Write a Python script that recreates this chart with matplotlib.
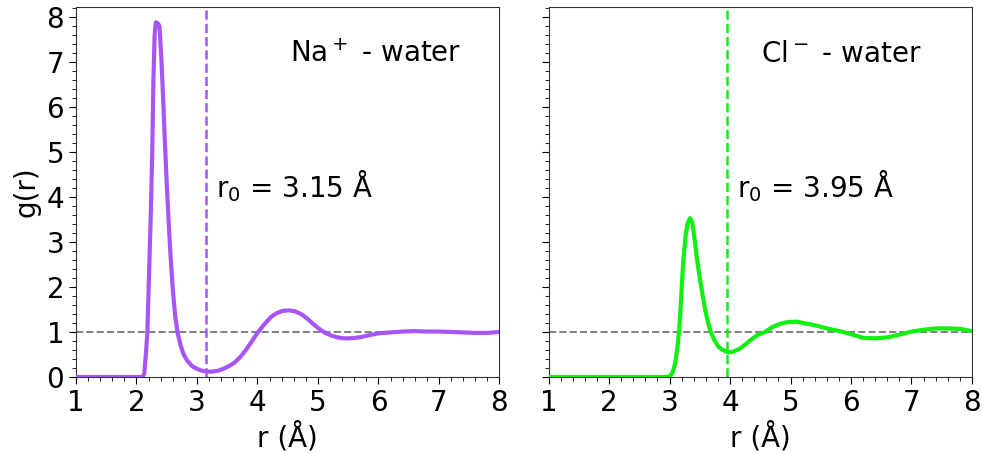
import matplotlib
matplotlib.use("Agg")
import matplotlib.pyplot as plt
from matplotlib.ticker import AutoMinorLocator

# Na+ - water g(r)
r_na = [1.0, 1.5, 2.0, 2.10, 2.13, 2.16, 2.18, 2.21, 2.24, 2.26, 2.28, 2.30, 2.32, 2.35,
        2.38, 2.41, 2.44, 2.47, 2.50, 2.53, 2.56, 2.60, 2.64, 2.68, 2.73, 2.78, 2.84,
        2.92, 3.00, 3.08, 3.17, 3.25, 3.35, 3.45, 3.55, 3.63, 3.72, 3.82, 3.91, 4.00,
        4.10, 4.22, 4.32, 4.42, 4.52, 4.62, 4.72, 4.82, 4.92, 5.02, 5.12, 5.22, 5.32,
        5.42, 5.52, 5.62, 5.72, 5.85, 6.0, 6.2, 6.4, 6.6, 6.8, 7.0, 7.2, 7.4, 7.6,
        7.8, 8.0]
g_na = [0.0, 0.0, 0.0, 0.0, 0.08, 0.6, 1.0, 2.4, 3.8, 5.0, 6.6, 7.6, 7.88, 7.86,
        7.8, 7.1, 6.2, 5.2, 4.3, 3.5, 2.75, 1.95, 1.35, 0.98, 0.7, 0.5, 0.36,
        0.24, 0.18, 0.14, 0.12, 0.12, 0.14, 0.19, 0.26, 0.33, 0.45, 0.62, 0.8, 0.98,
        1.15, 1.33, 1.42, 1.47, 1.48, 1.46, 1.40, 1.30, 1.18, 1.07, 0.98, 0.92, 0.88,
        0.86, 0.86, 0.87, 0.89, 0.93, 0.97, 0.99, 1.01, 1.02, 1.01, 1.01, 1.0, 0.99, 0.98,
        0.98, 1.0]

# Cl- - water g(r)
r_cl = [1.0, 2.0, 2.95, 3.01, 3.05, 3.09, 3.13, 3.16, 3.19, 3.22, 3.25, 3.27, 3.30,
        3.34, 3.37, 3.39, 3.42, 3.45, 3.50, 3.56, 3.61, 3.67, 3.74, 3.81, 3.88, 3.96,
        4.05, 4.15, 4.25, 4.35, 4.45, 4.58, 4.70, 4.82, 4.95, 5.1, 5.25, 5.4, 5.6,
        5.87, 6.0, 6.2, 6.4, 6.6, 6.8, 6.97, 7.2, 7.41, 7.6, 7.8, 8.0]
g_cl = [0.0, 0.0, 0.0, 0.02, 0.1, 0.28, 0.65, 1.04, 1.7, 2.45, 2.9, 3.19, 3.42,
        3.53, 3.45, 3.3, 3.0, 2.65, 2.2, 1.71, 1.36, 1.04, 0.82, 0.67, 0.6, 0.55,
        0.56, 0.62, 0.72, 0.83, 0.93, 1.0, 1.11, 1.18, 1.22, 1.23, 1.19, 1.15, 1.08,
        1.0, 0.95, 0.87, 0.86, 0.88, 0.94, 1.0, 1.05, 1.08, 1.08, 1.07, 1.02]

r0_na = 3.15
r0_cl = 3.95

purple = '#a855f7'
green = '#11f011'

plt.rcParams['font.size'] = 20
plt.rcParams['axes.edgecolor'] = '0.2'

fig, (ax1, ax2) = plt.subplots(1, 2, figsize=(9.82, 4.54), dpi=100, sharey=True)
fig.subplots_adjust(left=0.0774, right=0.9898, top=0.9846, bottom=0.1696, wspace=0.116)

panels = [
    (ax1, r_na, g_na, r0_na, purple, r'Na$^+$ - water', 4.53, r'r$_0$ = 3.15 Å', 3.32),
    (ax2, r_cl, g_cl, r0_cl, green, r'Cl$^-$ - water', 4.52, r'r$_0$ = 3.95 Å', 4.12),
]

for ax, r, g, r0, col, name, xname, r0txt, xr0 in panels:
    ax.axhline(1.0, color='gray', lw=1.4, ls='--', zorder=1)
    ax.plot(r, g, color=col, lw=3, zorder=3)
    ax.axvline(r0, color=col, lw=1.8, ls='--', zorder=2)
    ax.text(xname, 7.0, name, ha='left', va='baseline', fontsize=20)
    ax.text(xr0, 4.0, r0txt, ha='left', va='baseline', fontsize=20)
    ax.set_xlim(1, 8)
    ax.set_ylim(0, 8.22)
    ax.set_xlabel('r (Å)', fontsize=20)
    ax.set_xticks(range(1, 9))
    ax.xaxis.set_minor_locator(AutoMinorLocator(5))
    ax.yaxis.set_minor_locator(AutoMinorLocator(5))
    ax.tick_params(which='major', length=5, labelsize=20)
    ax.tick_params(which='minor', length=3)

ax1.set_ylabel('g(r)', fontsize=20)
ax1.set_yticks(range(0, 9))

fig.savefig('out.png')
